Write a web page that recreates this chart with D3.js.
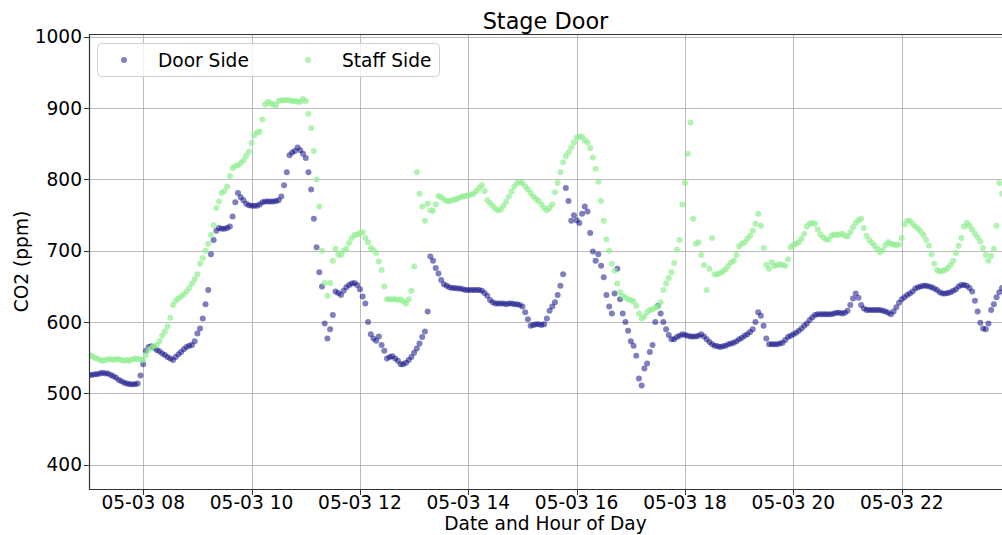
<!DOCTYPE html>
<html>
<head>
<meta charset="utf-8">
<script src="https://cdn.jsdelivr.net/npm/d3@7"></script>
<style>
  html, body { margin: 0; padding: 0; background: #fff; }
  svg { display: block; font-family: "DejaVu Sans", sans-serif; }
</style>
</head>
<body>
<svg id="chart" width="1002" height="535"></svg>
<script>
// ---- Data (CO2 ppm, one reading every 3 minutes from 05-03 07:00) ----
const title = "Stage Door";
const seriesNames = ["Door Side", "Staff Side"];
const startTime = new Date(2023, 4, 3, 7, 0);
const endTime = new Date(2023, 4, 3, 23, 51);
const sampleMinutes = 3;
const yTicks = [400, 500, 600, 700, 800, 900, 1000];
const xTickHours = [8, 10, 12, 14, 16, 18, 20, 22];
const xTickFormat = "%m-%d %H";

const doorSide = [
  526,526,527,527,528,529,528,528,526,524,522,519,517,515,514,513,513,513,514,525,
  541,560,565,566,564,561,559,556,554,551,549,547,551,555,558,562,565,567,568,573,
  584,591,605,625,645,695,715,728,732,731,731,732,734,748,768,781,775,771,766,764,
  763,763,763,765,768,769,769,769,769,770,771,776,792,810,834,838,840,845,841,836,
  830,810,786,745,705,670,650,598,577,590,610,643,641,638,644,649,652,654,655,652,
  646,636,626,600,583,577,574,580,568,560,549,551,552,549,546,541,541,543,547,551,
  557,563,570,579,587,615,692,686,676,668,659,653,651,649,648,648,647,647,646,645,
  645,645,645,645,645,644,641,637,631,628,626,626,626,626,625,626,626,625,625,624,
  622,614,604,595,596,597,597,596,597,605,616,622,628,638,651,667,788,770,742,750,
  743,739,752,762,755,725,699,686,695,679,663,638,622,612,640,675,632,612,600,588,
  573,567,553,521,511,535,542,558,568,600,623,612,600,590,582,576,576,579,581,583,
  582,581,580,580,580,581,583,580,576,572,569,567,566,565,566,567,569,570,571,573,
  576,578,581,583,586,590,600,614,609,595,577,569,569,569,569,570,571,575,579,581,
  583,585,588,591,595,598,603,607,610,611,611,611,611,611,611,612,613,613,612,613,
  616,624,633,640,634,624,619,617,617,617,617,617,617,616,615,613,611,615,621,627,
  632,635,638,640,643,647,649,650,651,651,650,649,647,645,642,640,640,641,642,644,
  646,650,652,652,651,648,643,630,615,599,591,590,598,617,625,635,642,648
];

const staffSide = [
  554,553,550,549,547,546,547,548,548,547,548,548,547,546,547,546,548,549,548,548,
  547,554,561,564,566,568,573,581,587,594,606,624,630,633,636,639,643,648,654,660,
  667,682,690,700,710,722,736,760,769,781,784,790,805,816,819,820,823,827,833,839,
  851,862,866,867,884,905,909,907,905,904,910,911,911,911,911,910,910,909,909,913,
  910,892,872,840,800,762,700,655,637,655,686,703,695,694,700,703,711,718,722,723,
  725,726,718,712,704,701,697,685,673,650,632,632,632,632,631,632,629,626,632,644,
  678,810,780,762,742,766,757,756,765,777,775,772,770,770,771,772,773,775,776,777,
  778,779,780,784,788,792,784,771,767,763,759,757,758,763,769,776,783,790,795,796,
  795,790,786,781,776,773,770,765,760,757,760,765,782,795,810,824,833,838,845,852,
  859,860,860,855,852,844,831,815,797,770,742,716,700,682,672,654,642,637,634,632,
  631,629,623,612,605,608,614,617,618,620,622,628,645,654,662,670,683,702,715,765,
  795,836,880,745,710,712,694,680,645,675,718,667,667,669,671,674,679,684,686,694,
  706,710,712,717,721,728,738,752,735,704,680,675,684,679,680,681,680,679,688,705,
  708,710,712,717,724,734,738,739,738,730,723,719,716,716,721,723,722,723,724,721,
  720,726,733,739,743,745,732,721,715,711,707,703,698,701,708,712,710,709,708,709,
  718,737,742,742,738,734,731,727,722,715,707,695,682,673,671,672,673,676,680,686,
  697,707,718,734,739,735,730,724,719,713,704,694,686,693,703,735,795,780
];

const seriesColors = ["#000080", "#90ee90"];
const seriesOpacity = [0.5, 0.7];
const seriesData = [doorSide, staffSide];

// ---- Layout ----
const svg = d3.select("#chart");
const plot = { left: 89, right: 1002, top: 34, bottom: 489 };

const x = d3.scaleTime().domain([startTime, endTime]).range([plot.left, plot.right]);
const y = d3.scaleLinear().domain([366, 1004]).range([plot.bottom, plot.top]);

const timeOf = i => new Date(startTime.getTime() + i * sampleMinutes * 60000);
const xTickVals = xTickHours.map(h => new Date(2023, 4, 3, h, 0));

const fontSize = 18.6;
const fmtX = d3.timeFormat(xTickFormat);
const px = v => Math.round(v) + 0.5;

// Clip
svg.append("defs").append("clipPath").attr("id", "clip")
  .append("rect")
  .attr("x", plot.left).attr("y", plot.top)
  .attr("width", plot.right - plot.left).attr("height", plot.bottom - plot.top);

// Grid
const gridG = svg.append("g");
gridG.selectAll("line.v").data(xTickVals).join("line")
  .attr("x1", d => px(x(d))).attr("x2", d => px(x(d)))
  .attr("y1", plot.top).attr("y2", plot.bottom)
  .attr("stroke", "#b0b0b0").attr("stroke-width", 1).attr("stroke-opacity", 0.85);
gridG.selectAll("line.h").data(yTicks).join("line")
  .attr("x1", plot.left).attr("x2", plot.right)
  .attr("y1", d => px(y(d))).attr("y2", d => px(y(d)))
  .attr("stroke", "#b0b0b0").attr("stroke-width", 1).attr("stroke-opacity", 0.85);

// Points (Door first, Staff on top)
const pts = svg.append("g").attr("clip-path", "url(#clip)");
seriesData.forEach((vals, s) => {
  pts.append("g").selectAll("circle").data(vals).join("circle")
    .attr("cx", (d, i) => x(timeOf(i)))
    .attr("cy", d => y(d))
    .attr("r", 3)
    .attr("fill", seriesColors[s])
    .attr("fill-opacity", seriesOpacity[s]);
});

// Spines
const spine = "#333";
svg.append("line").attr("x1", plot.left).attr("x2", plot.right)
  .attr("y1", plot.top + 0.5).attr("y2", plot.top + 0.5)
  .attr("stroke", spine).attr("stroke-width", 1.2);
svg.append("line").attr("x1", plot.left).attr("x2", plot.right)
  .attr("y1", plot.bottom + 0.5).attr("y2", plot.bottom + 0.5)
  .attr("stroke", spine).attr("stroke-width", 1.2);
svg.append("line").attr("x1", plot.left + 0.5).attr("x2", plot.left + 0.5)
  .attr("y1", plot.top).attr("y2", plot.bottom + 1)
  .attr("stroke", spine).attr("stroke-width", 1.2);

// X ticks + labels
const gx = svg.append("g");
gx.selectAll("line").data(xTickVals).join("line")
  .attr("x1", d => px(x(d))).attr("x2", d => px(x(d)))
  .attr("y1", plot.bottom + 1).attr("y2", plot.bottom + 6)
  .attr("stroke", spine).attr("stroke-width", 1);
gx.selectAll("text").data(xTickVals).join("text")
  .attr("x", d => x(d)).attr("y", 509)
  .attr("text-anchor", "middle").style("font-size", fontSize + "px")
  .text(d => fmtX(d));

// Y ticks + labels
const gy = svg.append("g");
gy.selectAll("line").data(yTicks).join("line")
  .attr("x1", plot.left - 5).attr("x2", plot.left)
  .attr("y1", d => px(y(d))).attr("y2", d => px(y(d)))
  .attr("stroke", spine).attr("stroke-width", 1);
gy.selectAll("text").data(yTicks).join("text")
  .attr("x", plot.left - 7).attr("y", d => y(d)).attr("dy", "0.35em")
  .attr("text-anchor", "end").style("font-size", fontSize + "px")
  .text(d => d3.format("d")(d));

// Title and axis labels
svg.append("text")
  .attr("x", (plot.left + plot.right) / 2).attr("y", 29)
  .attr("text-anchor", "middle").style("font-size", "22.4px").text(title);
svg.append("text")
  .attr("x", (plot.left + plot.right) / 2).attr("y", 530)
  .attr("text-anchor", "middle").style("font-size", fontSize + "px").text("Date and Hour of Day");
svg.append("text")
  .attr("transform", `translate(28,${(plot.top + plot.bottom) / 2}) rotate(-90)`)
  .attr("text-anchor", "middle").style("font-size", fontSize + "px").text("CO2 (ppm)");

// Legend
const lg = svg.append("g");
lg.append("rect")
  .attr("x", 97.5).attr("y", 43.5).attr("width", 342).attr("height", 33)
  .attr("rx", 4).attr("fill", "#fff").attr("fill-opacity", 0.8)
  .attr("stroke", "#d0d0d0").attr("stroke-width", 1);
const legendX = [124, 308];
seriesNames.forEach((name, s) => {
  lg.append("circle").attr("cx", legendX[s]).attr("cy", 60).attr("r", 3)
    .attr("fill", seriesColors[s]).attr("fill-opacity", seriesOpacity[s]);
  lg.append("text").attr("x", legendX[s] + 34).attr("y", 66.5)
    .style("font-size", fontSize + "px").text(name);
});
</script>
</body>
</html>
